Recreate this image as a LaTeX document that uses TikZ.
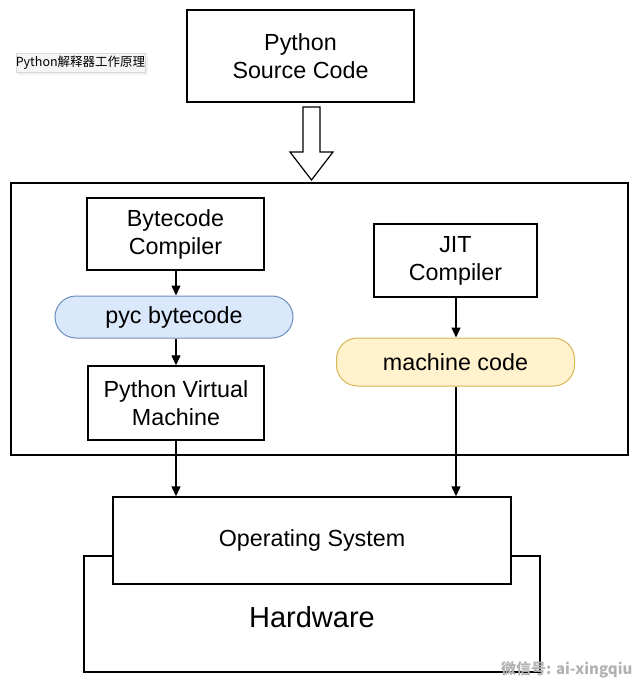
\documentclass[tikz,border=0pt]{standalone}
\usepackage{fontspec}
\setmainfont{Liberation Sans}
\newfontfamily\cjk{Noto Sans CJK SC}
\usetikzlibrary{arrows.meta,shadows}

\definecolor{pycblue}{RGB}{218,232,252}
\definecolor{pycline}{RGB}{108,142,191}
\definecolor{mcyellow}{RGB}{255,242,204}
\definecolor{mcline}{RGB}{214,182,86}

\tikzset{
  box/.style={draw, line width=1.4pt, fill=white, align=center, inner sep=0pt,
    font=\fontsize{23.3}{28}\selectfont},
  pill/.style={box, rounded corners=21pt, line width=1pt},
  flow/.style={line width=1.3pt, -{Triangle[length=10pt,width=9pt]}},
}

\begin{document}
\begin{tikzpicture}[x=1pt,y=1pt,yscale=-1]
\useasboundingbox (0,0) rectangle (637,685);

% title tag
\node (tag) [draw=black!15, fill=black!4, drop shadow={opacity=0.12}, minimum width=129pt, minimum height=19pt,
  inner sep=0pt, font=\cjk\fontsize{12.5}{14}\selectfont] at (80.5,62.5) {Python解释器工作原理};

% source
\node (src) [box, minimum width=227pt, minimum height=92pt] at (300.5,56) {Python\\Source Code};

% interpreter frame
\node (frame) [draw, line width=1.4pt, minimum width=617pt, minimum height=272pt] at (319.5,319) {};

% block arrow
\draw [line width=1.2pt, fill=white] (303,107) -- (320,107) -- (320,152) -- (333,152) -- (311.5,180)
  -- (290,152) -- (303,152) -- cycle;

% left column
\node (bc) [box, minimum width=177pt, minimum height=72pt] at (175.5,234) {Bytecode\\Compiler};
\node (pyc) [pill, draw=pycline, fill=pycblue, minimum width=238pt, minimum height=42pt] at (174,317) {pyc bytecode};
\node (pvm) [box, minimum width=176pt, minimum height=74pt] at (176,403) {Python Virtual\\Machine};

% right column
\node (jit) [box, minimum width=163pt, minimum height=73pt] at (455.5,260.5) {JIT\\Compiler};
\node (mc) [pill, draw=mcline, fill=mcyellow, minimum width=238pt, minimum height=48pt] at (455.5,362) {machine code};

% hardware
\node (os) [box, minimum width=398pt, minimum height=87pt] at (312,540.5) {Operating System};
\draw [line width=1.4pt] (os.west |- 0,556) -- (84,556) -- (84,672) -- (540,672) -- (540,556) -- (os.east |- 0,556);
\node (hw) [font=\fontsize{29}{34}\selectfont] at (312,617) {Hardware};

% flows
\coordinate (mcout) at (456,0);
\draw [flow] (bc.south -| 176,0) -- (pyc.north -| 176,0);
\draw [flow] (pyc.south -| 176,0) -- (pvm.north);
\draw [flow] (pvm.south) -- (pvm.south |- os.north);
\draw [flow] (jit.south -| mcout) -- (mc.north -| mcout);
\draw [flow] (mc.south -| mcout) -- (os.north -| mcout);

% watermark
\node (wm) [anchor=east, text=black!30, font=\cjk\bfseries\fontsize{15}{18}\selectfont] at (636,670) {微信号: ai-xingqiu};

\end{tikzpicture}
\end{document}
